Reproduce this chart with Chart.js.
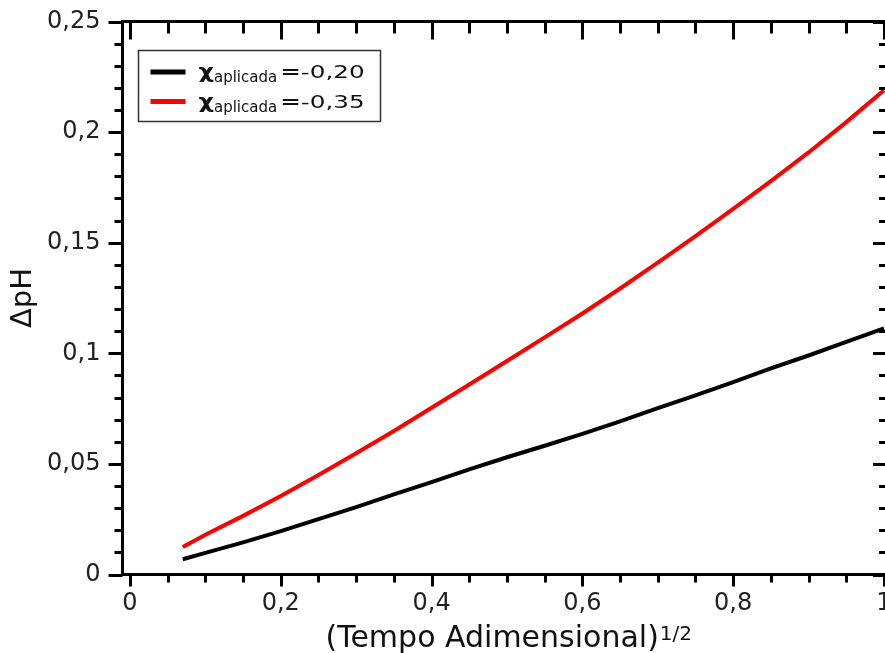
<!DOCTYPE html>
<html><head><meta charset="utf-8">
<script src="https://cdn.jsdelivr.net/npm/chart.js@4.4.1/dist/chart.umd.min.js"></script>
<style>html,body{margin:0;padding:0;overflow:hidden;background:#fff}
#wrap{position:relative;width:888px;height:653px}</style></head>
<body><div id="wrap"><canvas id="c"></canvas></div>
<script>
// ---- data ----
const xValues = [0.07,0.10,0.15,0.20,0.25,0.30,0.35,0.40,0.45,0.50,0.55,0.60,0.65,0.70,0.75,0.80,0.85,0.90,0.95,1.00];
const blackValues = [0.0069,0.0098,0.0145,0.0196,0.0250,0.0305,0.0362,0.0418,0.0475,0.0530,0.0582,0.0636,0.0692,0.0752,0.0810,0.0870,0.0932,0.0990,0.1052,0.1113];
const redValues = [0.0124,0.0180,0.0265,0.0355,0.0450,0.0548,0.0649,0.0754,0.0859,0.0965,0.1072,0.1180,0.1293,0.1410,0.1530,0.1653,0.1778,0.1908,0.2045,0.2189];
const legendSymbol = 'χ';
const legendSub = 'aplicada';
const legendValues = ['=-0,20','=-0,35'];
const xTicks = [0,0.2,0.4,0.6,0.8,1];
const yTicks = [0,0.05,0.1,0.15,0.2,0.25];
const xTitle = '(Tempo Adimensional)';
const xTitleSup = '1/2';
const yTitle = 'ΔpH';

const FONT = "'DejaVu Sans', sans-serif";
const fmt = v => String(v).replace('.', ',');
const toPts = ys => xValues.map((x,i)=>({x, y: ys[i]}));
const noPad = s => { s.paddingTop = 0; s.paddingBottom = 0; s.paddingLeft = 0; s.paddingRight = 0; };

const frameTicks = {
  id: 'frameTicks',
  afterDatasetsDraw(chart){
    const ctx = chart.ctx, a = chart.chartArea;
    const xs = chart.scales.x, ys = chart.scales.y;
    ctx.save();
    ctx.strokeStyle = '#000'; ctx.lineWidth = 3; ctx.lineCap = 'butt';
    ctx.beginPath();
    ctx.moveTo(a.left, a.top - 1.5); ctx.lineTo(a.left, a.bottom + 1.5);
    ctx.moveTo(a.left - 1.5, a.bottom); ctx.lineTo(a.right + 1.5, a.bottom);
    ctx.moveTo(a.left - 1.5, a.top); ctx.lineTo(a.right + 1.5, a.top);
    ctx.moveTo(a.right, a.top - 1.5); ctx.lineTo(a.right, a.bottom + 1.5);
    ctx.stroke();
    // x ticks every 0.05
    for (let k = 0; k <= 20; k++) {
      const v = k * 0.05, major = k % 4 === 0;
      const px = Math.round(xs.getPixelForValue(v)) + 0.5;
      ctx.beginPath();
      ctx.moveTo(px, a.bottom); ctx.lineTo(px, a.bottom + (major ? 12 : 8));
      ctx.moveTo(px, a.top); ctx.lineTo(px, a.top + (major ? 18 : 12));
      ctx.stroke();
    }
    // y ticks every 0.01
    for (let k = 0; k <= 25; k++) {
      const v = k * 0.01, major = k % 5 === 0;
      const py = Math.round(ys.getPixelForValue(v)) + 0.5;
      ctx.beginPath();
      ctx.moveTo(a.left, py); ctx.lineTo(a.left - (major ? 14 : 8), py);
      ctx.moveTo(a.right, py); ctx.lineTo(a.right - (major ? 14 : 8), py);
      ctx.stroke();
    }
    ctx.restore();
  },
  afterDraw(chart){
    const ctx = chart.ctx, a = chart.chartArea;
    ctx.save();
    // x title with superscript
    ctx.fillStyle = '#111';
    ctx.textBaseline = 'alphabetic';
    ctx.font = "30px " + FONT;
    const w1 = ctx.measureText(xTitle).width;
    ctx.font = "20px " + FONT;
    const w2 = ctx.measureText(xTitleSup).width;
    const x0 = (a.left + a.right) / 2 + 4 - (w1 + w2 + 1) / 2;
    ctx.font = "30px " + FONT; ctx.textAlign = 'left';
    ctx.fillText(xTitle, x0, 647);
    ctx.font = "20px " + FONT;
    ctx.fillText(xTitleSup, x0 + w1 + 1, 640);
    // legend
    const bx = a.left + 16, by = a.top + 29, bw = 242, bh = 71;
    ctx.fillStyle = '#fff'; ctx.fillRect(bx, by, bw, bh);
    ctx.strokeStyle = '#333'; ctx.lineWidth = 1.5; ctx.strokeRect(bx, by, bw, bh);
    chart.data.datasets.forEach((ds, i) => {
      const cy = by + 21.5 + i * 29.5;
      ctx.strokeStyle = ds.borderColor; ctx.lineWidth = 5;
      ctx.beginPath(); ctx.moveTo(bx + 12, cy); ctx.lineTo(bx + 47, cy); ctx.stroke();
      ctx.fillStyle = '#111';
      const base = cy + 6;
      let tx = bx + 60;
      ctx.save(); ctx.translate(tx, base); ctx.scale(1.2, 1);
      ctx.font = "bold 20px " + FONT;
      ctx.fillText(legendSymbol, 0, 0);
      const ws = ctx.measureText(legendSymbol).width * 1.2;
      ctx.restore();
      tx += ws;
      ctx.font = "15px " + FONT;
      ctx.fillText(legendSub, tx, base + 4);
      tx += ctx.measureText(legendSub).width + 3;
      ctx.save(); ctx.translate(tx, base); ctx.scale(1.45, 1);
      ctx.font = "bold 17px " + FONT;
      ctx.fillText(legendValues[i].slice(0,1), 0, 0);
      const we = ctx.measureText(legendValues[i].slice(0,1)).width;
      ctx.font = "17px " + FONT;
      ctx.fillText(legendValues[i].slice(1), we, 0);
      ctx.restore();
    });
    ctx.restore();
  }
};

new Chart(document.getElementById('c'), {
  type: 'line',
  data: {
    datasets: [
      { label: legendSymbol + legendSub + legendValues[0], data: toPts(blackValues), borderColor: '#000', borderWidth: 4, pointRadius: 0, tension: 0, fill: false },
      { label: legendSymbol + legendSub + legendValues[1], data: toPts(redValues), borderColor: '#ff0000', borderWidth: 4, pointRadius: 0, tension: 0, fill: false }
    ]
  },
  options: {
    responsive: true, maintainAspectRatio: false, animation: false,
    devicePixelRatio: 1,
    layout: { padding: { top: 21.5, right: 1, left: 0, bottom: 0 } },
    plugins: { legend: { display: false }, tooltip: { enabled: false }, title: { display: false } },
    scales: {
      x: {
        type: 'linear', position: 'bottom', min: -0.00995, max: 1.004,
        grid: { display: false, drawTicks: false }, border: { display: false },
        afterBuildTicks: s => { s.ticks = xTicks.map(v => ({ value: v })); },
        afterFit: s => { s.height = 78.5; noPad(s); },
        ticks: { color: '#222', font: { family: FONT, size: 24 }, padding: 15, maxRotation: 0, autoSkip: false,
          callback: v => fmt(v) }
      },
      y: {
        type: 'linear', position: 'left', min: 0, max: 0.25,
        grid: { display: false, drawTicks: false }, border: { display: false },
        afterBuildTicks: s => { s.ticks = yTicks.map(v => ({ value: v })); },
        afterFit: s => { s.width = 122.5; noPad(s); },
        title: { display: true, text: yTitle, color: '#111', font: { family: FONT, size: 29 }, padding: { top: 6, bottom: 0 } },
        ticks: { color: '#222', font: { family: FONT, size: 24 }, padding: 22, autoSkip: false,
          callback: v => fmt(v) }
      }
    }
  },
  plugins: [frameTicks]
});
</script>
</body></html>
